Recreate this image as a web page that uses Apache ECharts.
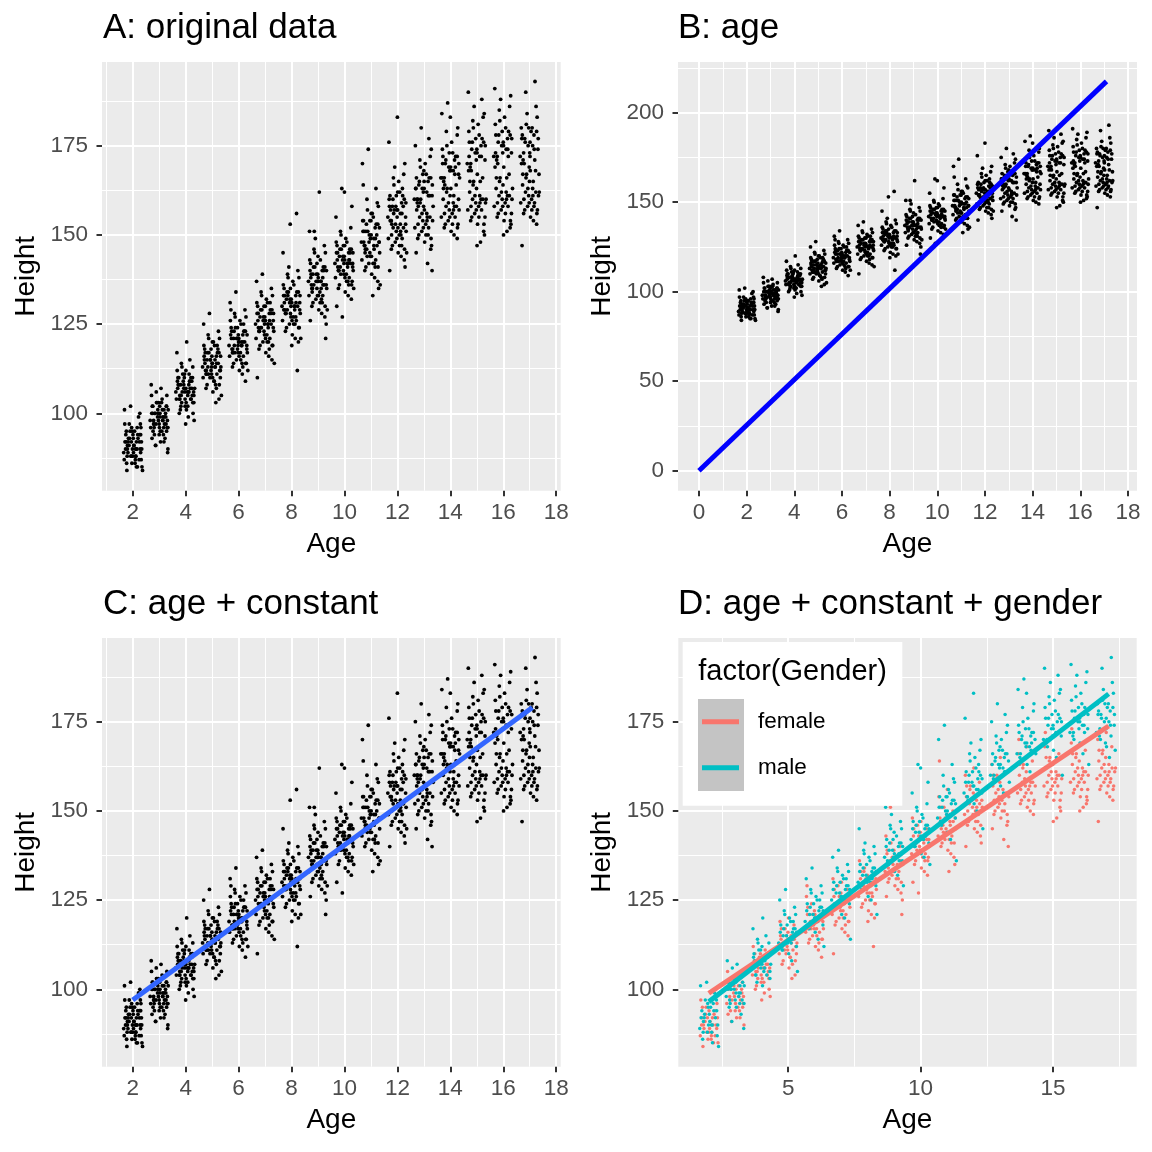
<!DOCTYPE html>
<html>
<head>
<meta charset="utf-8">
<script src="https://cdn.jsdelivr.net/npm/echarts@6/dist/echarts.min.js"></script>
<style>html,body{margin:0;padding:0;background:#fff}#c{width:1152px;height:1152px}</style>
</head>
<body>
<div id="c"></div>
<script>
// ---------- data ----------
const femalePts = [
[1.68,87],[1.75,92],[1.82,89],[1.9,95],[1.97,86],[2.05,91],[2.12,88],[2.2,93],[2.28,90],[2.35,85],[1.7,97],[1.78,84],[1.86,91],[1.93,88],[2.01,94],[2.09,86],[2.16,90],[2.24,87],[2.31,96],[1.73,90],[1.88,93],[2.03,89],[2.18,85],[2.33,92],
[2.68,96],[2.75,100],[2.82,94],[2.9,103],[2.97,98],[3.05,92],[3.12,101],[3.2,97],[3.28,95],[3.33,90],[2.71,105],[2.79,98],[2.86,91],[2.94,99],[3.01,96],[3.09,103],[3.16,94],[3.24,100],[3.31,98],[2.73,93],[2.88,97],[3.03,100],[3.18,92],[3.27,102],
[3.65,104],[3.72,108],[3.8,101],[3.87,106],[3.95,110],[4.02,103],[4.1,99],[4.17,107],[4.25,105],[4.32,98],[3.68,112],[3.76,100],[3.83,105],[3.91,109],[3.98,102],[4.06,106],[4.13,111],[4.21,104],[4.28,100],[3.7,107],[3.85,103],[4.0,97],[4.15,109],[4.3,106],
[4.66,110],[4.73,114],[4.81,108],[4.88,117],[4.96,112],[5.03,106],[5.11,115],[5.18,111],[5.26,104],[5.33,113],[4.69,119],[4.77,107],[4.84,113],[4.92,110],[4.99,116],[5.07,109],[5.14,103],[5.22,118],[5.29,112],[4.71,115],[4.86,111],[5.01,120],[5.16,107],[5.31,110],
[5.66,116],[5.73,121],[5.81,114],[5.88,124],[5.96,118],[6.03,112],[6.11,120],[6.18,116],[6.26,109],[6.33,117],[5.69,126],[5.77,113],[5.84,119],[5.92,115],[5.99,122],[6.07,117],[6.14,111],[6.22,123],[6.29,114],[5.71,129],[5.86,117],[6.01,121],[6.16,113],[6.31,119],
[6.66,121],[6.73,126],[6.81,119],[6.88,129],[6.96,123],[7.03,117],[7.11,125],[7.18,121],[7.26,115],[7.33,123],[6.69,131],[6.77,118],[6.84,124],[6.92,120],[6.99,127],[7.07,122],[7.14,116],[7.22,128],[7.29,119],[6.71,110],[6.86,124],[7.01,130],[7.16,118],[7.31,126],
[7.66,126],[7.73,131],[7.81,124],[7.88,134],[7.96,128],[8.03,122],[8.11,130],[8.18,126],[8.26,120],[8.33,128],[7.69,136],[7.77,123],[7.84,129],[7.92,125],[7.99,132],[8.07,127],[8.14,121],[8.22,112],[8.29,124],[7.71,129],[7.86,133],[8.01,119],[8.16,127],[8.31,131],
[8.66,133],[8.73,138],[8.81,131],[8.88,141],[8.96,135],[9.03,129],[9.11,137],[9.18,133],[9.26,127],[9.33,135],[8.69,143],[8.77,130],[8.84,136],[8.92,132],[8.99,139],[9.07,134],[9.14,128],[9.22,140],[9.29,121],[8.71,126],[8.86,151],[9.01,137],[9.16,131],[9.31,125],
[9.66,138],[9.73,143],[9.81,136],[9.88,146],[9.96,140],[10.03,134],[10.11,142],[10.18,138],[10.26,132],[10.33,140],[9.69,148],[9.77,135],[9.84,141],[9.92,127],[9.99,144],[10.07,139],[10.14,133],[10.22,145],[10.29,137],[9.71,130],[9.86,139],[10.01,147],[10.16,136],[10.31,142],
[10.66,143],[10.73,148],[10.81,141],[10.88,151],[10.96,145],[11.03,139],[11.11,147],[11.18,143],[11.26,137],[11.33,145],[10.69,154],[10.77,140],[10.84,146],[10.92,142],[10.99,149],[11.07,133],[11.14,138],[11.22,150],[11.29,135],[10.71,164],[10.86,144],[11.01,156],[11.16,141],[11.31,148],
[11.66,149],[11.73,154],[11.81,147],[11.88,157],[11.96,151],[12.03,145],[12.11,153],[12.18,149],[12.26,143],[12.33,151],[11.69,160],[11.77,146],[11.84,152],[11.92,148],[11.99,155],[12.07,150],[12.14,144],[12.22,158],[12.29,141],[11.71,140],[11.86,156],[12.01,162],[12.16,147],[12.31,153],
[12.66,152],[12.73,157],[12.81,150],[12.88,160],[12.96,154],[13.03,148],[13.11,156],[13.18,152],[13.26,146],[13.33,154],[12.69,163],[12.77,149],[12.84,155],[12.92,151],[12.99,158],[13.07,153],[13.14,142],[13.22,161],[13.29,147],[12.71,145],[12.86,159],[13.01,165],[13.16,150],[13.31,140],
[13.66,155],[13.73,160],[13.81,153],[13.88,163],[13.96,157],[14.03,151],[14.11,159],[14.18,155],[14.26,149],[14.33,157],[13.69,166],[13.77,152],[13.84,158],[13.92,154],[13.99,161],[14.07,156],[14.14,150],[14.22,164],[14.29,153],[13.71,170],[13.86,162],[14.01,168],[14.16,158],[14.31,160],
[14.66,157],[14.73,162],[14.81,155],[14.88,165],[14.96,159],[15.03,153],[15.11,161],[15.18,157],[15.26,151],[15.33,159],[14.69,168],[14.77,154],[14.84,160],[14.92,156],[14.99,163],[15.07,158],[15.14,148],[15.22,166],[15.29,150],[14.71,172],[14.86,164],[15.01,147],[15.16,160],[15.31,155],
[15.66,158],[15.73,163],[15.81,156],[15.88,166],[15.96,160],[16.03,154],[16.11,162],[16.18,158],[16.26,152],[16.33,160],[15.69,169],[15.77,155],[15.84,161],[15.92,157],[15.99,164],[16.07,159],[16.14,151],[16.22,167],[16.29,153],[15.71,173],[15.86,165],[16.01,150],[16.16,161],[16.31,156],
[16.66,159],[16.73,164],[16.81,157],[16.88,167],[16.96,161],[17.03,155],[17.11,163],[17.18,159],[17.26,153],[17.33,161],[16.69,170],[16.77,156],[16.84,162],[16.92,158],[16.99,165],[17.07,160],[17.14,154],[17.22,168],[17.29,157],[16.71,147],[16.86,166],[17.01,172],[17.16,158],[17.36,162],
[1.8,90],[1.95,92],[2.1,87],[2.26,94],[1.76,95],[2.0,88],[2.14,92],[2.3,89],
[2.8,97],[2.95,101],[3.1,95],[3.25,99],[2.76,102],[3.0,94],[3.14,98],[3.3,96],
[3.78,105],[3.93,108],[4.08,102],[4.23,107],[3.74,110],[3.98,104],[4.12,106],[4.27,103],
[4.78,112],[4.93,115],[5.08,109],[5.23,114],[4.74,117],[4.98,111],[5.12,113],[5.27,108],
[5.78,118],[5.93,121],[6.08,115],[6.23,120],[5.74,123],[5.98,117],[6.12,119],[6.27,114],
[6.78,123],[6.93,126],[7.08,120],[7.23,125],[6.74,128],[6.98,122],[7.12,124],[7.27,119],
[7.78,128],[7.93,131],[8.08,125],[8.23,130],[7.74,133],[7.98,127],[8.12,129],[8.27,124],
[8.78,134],[8.93,137],[9.08,131],[9.23,136],[8.74,139],[8.98,133],[9.12,135],[9.27,130],
[9.78,140],[9.93,143],[10.08,137],[10.23,142],[9.74,145],[9.98,139],[10.12,141],[10.27,136],
[10.78,145],[10.93,148],[11.08,142],[11.23,147],[10.74,151],[10.98,144],[11.12,146],[11.27,141],
[11.78,150],[11.93,153],[12.08,147],[12.23,152],[11.74,157],[11.98,149],[12.12,151],[12.27,146],
[12.78,153],[12.93,156],[13.08,150],[13.23,155],[12.74,160],[12.98,152],[13.12,154],[13.27,149],
[13.78,156],[13.93,159],[14.08,153],[14.23,158],[13.74,163],[13.98,155],[14.12,157],[14.27,152],
[14.78,158],[14.93,161],[15.08,155],[15.23,160],[14.74,165],[14.98,157],[15.12,159],[15.27,153],
[15.78,159],[15.93,162],[16.08,156],[16.23,161],[15.74,166],[15.98,158],[16.12,160],[16.27,154],
[16.78,160],[16.93,163],[17.08,157],[17.23,162],[16.74,167],[16.98,159],[17.12,161],[17.27,156]
];
const malePts = [
[1.66,89],[1.74,94],[1.8,91],[1.87,97],[1.95,88],[2.02,93],[2.1,90],[2.17,96],[2.25,92],[2.32,87],[1.69,101],[1.77,86],[1.84,93],[1.92,102],[1.99,90],[2.07,95],[2.14,85],[2.22,99],[2.3,94],[2.37,84],[1.71,92],[1.96,96],[2.11,88],[2.27,100],
[2.66,98],[2.74,102],[2.81,96],[2.89,106],[2.96,100],[3.04,95],[3.11,104],[3.19,99],[3.26,97],[3.34,101],[2.7,108],[2.77,95],[2.85,100],[2.92,103],[3.0,97],[3.07,107],[3.14,99],[3.22,93],[3.29,105],[2.72,100],[2.87,91],[3.02,102],[3.17,96],[3.32,89],
[3.63,106],[3.71,110],[3.78,104],[3.86,113],[3.93,107],[4.01,112],[4.08,105],[4.16,115],[4.23,109],[4.31,103],[3.67,117],[3.74,108],[3.82,102],[3.89,111],[3.97,106],[4.04,120],[4.12,108],[4.19,104],[4.27,113],[4.34,107],[3.69,109],[3.84,114],[4.03,101],[4.2,110],
[4.64,113],[4.72,118],[4.79,111],[4.87,121],[4.94,115],[5.02,110],[5.09,119],[5.17,114],[5.24,123],[5.32,116],[4.68,125],[4.75,112],[4.83,117],[4.9,128],[4.98,113],[5.05,120],[5.13,108],[5.2,117],[5.28,121],[5.35,105],[4.7,116],[4.85,122],[5.0,114],[5.19,119],
[5.64,119],[5.72,124],[5.79,117],[5.87,127],[5.94,121],[6.02,116],[6.09,125],[6.17,120],[6.24,129],[6.32,122],[5.68,131],[5.75,118],[5.83,123],[5.9,134],[5.98,119],[6.05,126],[6.13,114],[6.2,123],[6.28,127],[6.35,112],[5.7,122],[5.85,128],[6.0,120],[6.19,125],
[6.64,125],[6.72,130],[6.79,123],[6.87,133],[6.94,127],[7.02,121],[7.09,131],[7.17,126],[7.24,135],[7.32,128],[6.68,137],[6.75,124],[6.83,129],[6.9,139],[6.98,125],[7.05,132],[7.13,120],[7.2,129],[7.28,133],[7.35,114],[6.7,128],[6.85,134],[7.0,126],[7.19,131],
[7.64,130],[7.72,135],[7.79,128],[7.87,138],[7.94,132],[8.02,126],[8.09,136],[8.17,131],[8.24,140],[8.32,133],[7.68,145],[7.75,129],[7.83,134],[7.9,141],[7.98,130],[8.05,137],[8.13,125],[8.2,134],[8.28,138],[8.35,121],[7.7,133],[7.85,139],[7.95,153],[8.19,156],
[8.64,137],[8.72,142],[8.79,135],[8.87,145],[8.94,139],[9.02,133],[9.09,143],[9.18,138],[9.24,147],[9.32,140],[8.68,151],[8.75,136],[8.83,141],[8.9,149],[8.98,137],[9.05,162],[9.13,132],[9.2,141],[9.28,145],[9.35,129],[8.7,140],[8.85,146],[9.0,144],[9.19,136],
[9.64,142],[9.72,147],[9.79,140],[9.87,150],[9.94,144],[10.02,138],[10.09,148],[10.17,143],[10.24,152],[10.32,145],[9.68,155],[9.75,141],[9.83,146],[9.9,163],[9.98,142],[10.05,149],[10.13,137],[10.2,146],[10.28,158],[10.35,135],[9.7,145],[9.85,151],[10.0,162],[10.19,143],
[10.64,148],[10.72,154],[10.79,146],[10.87,157],[10.94,150],[11.02,144],[11.09,155],[11.17,149],[11.24,159],[11.32,152],[10.68,170],[10.75,147],[10.83,153],[10.9,174],[10.98,149],[11.05,156],[11.13,142],[11.2,153],[11.28,158],[11.35,136],[10.7,151],[10.85,160],[11.0,154],[11.19,163],
[11.64,155],[11.72,161],[11.79,153],[11.87,164],[11.94,158],[12.02,152],[12.09,162],[12.17,156],[12.24,167],[12.32,159],[11.68,176],[11.75,154],[11.83,160],[11.9,169],[11.98,157],[12.05,165],[12.13,150],[12.2,161],[12.28,170],[12.35,145],[11.7,158],[11.85,166],[12.0,183],[12.19,163],
[12.64,160],[12.72,166],[12.79,158],[12.87,169],[12.94,163],[13.02,157],[13.09,167],[13.17,161],[13.24,172],[13.32,164],[12.68,175],[12.75,159],[12.83,165],[12.9,180],[12.98,162],[13.05,170],[13.13,155],[13.2,166],[13.28,174],[13.35,158],[12.7,163],[12.85,171],[13.0,168],[13.19,177],
[13.64,166],[13.72,172],[13.79,164],[13.87,175],[13.94,169],[14.02,163],[14.09,173],[14.17,167],[14.26,178],[14.32,170],[13.68,184],[13.75,165],[13.83,171],[13.9,187],[13.98,168],[14.05,176],[14.13,161],[14.2,172],[14.28,180],[14.35,166],[13.7,174],[13.85,179],[14.0,183],[14.19,169],
[14.64,170],[14.72,176],[14.79,168],[14.87,180],[14.94,173],[15.02,167],[15.09,178],[15.17,172],[15.24,183],[15.32,175],[14.68,190],[14.75,169],[14.83,176],[14.9,186],[14.98,171],[15.05,181],[15.13,165],[15.2,177],[15.28,184],[15.35,160],[14.7,179],[14.85,182],[15.0,174],[15.19,188],
[15.64,172],[15.72,178],[15.79,170],[15.87,182],[15.94,175],[16.02,169],[16.09,180],[16.17,174],[16.24,186],[16.32,177],[15.68,191],[15.75,171],[15.83,178],[15.9,188],[15.98,173],[16.05,183],[16.13,166],[16.2,179],[16.28,189],[16.35,163],[15.7,181],[15.85,185],[16.0,176],[16.19,172],
[16.64,172],[16.72,178],[16.79,170],[16.87,181],[16.94,175],[17.02,168],[17.09,180],[17.17,174],[17.24,186],[17.32,177],[16.68,180],[16.75,171],[16.83,176],[16.9,184],[16.98,169],[17.05,179],[17.13,165],[17.2,193],[17.28,183],[17.35,167],[16.7,177],[16.85,190],[17.0,173],[17.19,171],
[1.83,92],[1.98,95],[2.13,90],[2.29,97],[1.79,88],[2.04,91],[2.19,94],[2.34,90],
[2.83,100],[2.98,103],[3.13,98],[3.28,102],[2.79,97],[3.03,99],[3.18,101],[3.33,96],
[3.81,108],[3.96,111],[4.11,106],[4.26,110],[3.77,104],[4.01,107],[4.16,109],[4.31,105],
[4.81,115],[4.96,118],[5.11,113],[5.26,117],[4.77,111],[5.01,114],[5.16,116],[5.31,112],
[5.81,121],[5.96,124],[6.11,119],[6.26,123],[5.77,117],[6.01,120],[6.16,122],[6.31,118],
[6.81,127],[6.96,130],[7.11,125],[7.26,129],[6.77,123],[7.01,126],[7.16,128],[7.31,124],
[7.81,132],[7.96,135],[8.11,130],[8.26,134],[7.77,128],[8.01,131],[8.16,133],[8.31,129],
[8.81,139],[8.96,142],[9.11,137],[9.26,141],[8.77,135],[9.01,138],[9.16,140],[9.31,136],
[9.81,144],[9.96,147],[10.11,142],[10.26,146],[9.77,140],[10.01,143],[10.16,145],[10.31,141],
[10.81,151],[10.96,154],[11.11,149],[11.26,153],[10.77,147],[11.01,150],[11.16,152],[11.31,148],
[11.81,158],[11.96,161],[12.11,156],[12.26,160],[11.77,154],[12.01,157],[12.16,159],[12.31,155],
[12.81,164],[12.96,167],[13.11,162],[13.26,166],[12.77,160],[13.01,163],[13.16,165],[13.31,161],
[13.81,170],[13.96,173],[14.11,168],[14.26,172],[13.77,166],[14.01,169],[14.16,171],[14.31,167],
[14.81,174],[14.96,177],[15.11,172],[15.26,176],[14.77,170],[15.01,173],[15.16,175],[15.31,171],
[15.81,176],[15.96,179],[16.11,174],[16.26,178],[15.77,172],[16.01,175],[16.16,177],[16.31,173],
[16.81,177],[16.96,180],[17.11,175],[17.26,179],[16.77,173],[17.01,176],[17.16,178],[17.31,174]
];
// fitted lines (end points)
const lineAge = [[0, 0], [17.1, 217.5]];
const lineAgeConst = [[2, 97], [17.1, 179]];
const lineFemale = [[2, 98.9], [17.1, 173.8]];
const lineMale = [[2, 96.5], [17.1, 182.8]];
// tick labels
const xTicksA = [2, 4, 6, 8, 10, 12, 14, 16, 18];
const yTicksA = [100, 125, 150, 175];
const xTicksB = [0, 2, 4, 6, 8, 10, 12, 14, 16, 18];
const yTicksB = [0, 50, 100, 150, 200];
const xTicksD = [5, 10, 15];
const titles = ['A: original data', 'B: age', 'C: age + constant', 'D: age + constant + gender'];
const genders = ['female', 'male'];
const allPts = femalePts.concat(malePts);

// ---------- chart ----------
const FONT = '"Liberation Sans", Arial, Helvetica, sans-serif';
const chart = echarts.init(document.getElementById('c'), null, {renderer: 'canvas'});

function axis(type, grid, min, max, step, ticks, name) {
  const isX = type === 'x';
  return {
    type: 'value', gridIndex: grid, min: min, max: max,
    minInterval: step, maxInterval: step,
    name: name, nameLocation: 'middle', nameGap: isX ? 40 : 62,
    nameTextStyle: {fontFamily: FONT, fontSize: 28, color: '#000'},
    axisLine: {show: false, onZero: false},
    axisTick: {show: true, length: 5.5, customValues: ticks, lineStyle: {color: '#333333', width: 2}},
    axisLabel: {customValues: ticks, margin: isX ? 11 : 14, fontFamily: FONT, fontSize: 22.5, color: '#4D4D4D'},
    splitLine: {show: true, lineStyle: {color: '#FFFFFF', width: 2}},
    minorTick: {show: false, splitNumber: 2},
    minorSplitLine: {show: true, lineStyle: {color: '#FFFFFF', width: 1}}
  };
}

const gridStyle = {show: true, backgroundColor: '#EBEBEB', borderWidth: 0, containLabel: false};
const titleStyle = {fontFamily: FONT, fontSize: 35, fontWeight: 'normal', color: '#000'};
const dot = (color) => ({color: color, opacity: 1});

const option = {
  animation: false,
  backgroundColor: '#FFFFFF',
  title: [
    {text: titles[0], left: 103, top: 11, padding: 0, textStyle: titleStyle},
    {text: titles[1], left: 678, top: 11, padding: 0, textStyle: titleStyle},
    {text: titles[2], left: 103, top: 587, padding: 0, textStyle: titleStyle},
    {text: titles[3], left: 678, top: 587, padding: 0, textStyle: titleStyle},
    {text: 'factor(Gender)', left: 698.3, top: 657.2, padding: 0, z: 10,
     textStyle: {fontFamily: FONT, fontSize: 29, fontWeight: 'normal', color: '#000'}}
  ],
  grid: [
    Object.assign({left: 102, top: 62, width: 458.7, height: 428.7}, gridStyle),
    Object.assign({left: 678, top: 62, width: 459, height: 428.7}, gridStyle),
    Object.assign({left: 102, top: 638, width: 458.7, height: 428.7}, gridStyle),
    Object.assign({left: 678.3, top: 638, width: 458.4, height: 428.7}, gridStyle)
  ],
  xAxis: [
    axis('x', 0, 0.84, 18.17, 2, xTicksA, 'Age'),
    axis('x', 1, -0.88, 18.38, 2, xTicksB, 'Age'),
    axis('x', 2, 0.84, 18.17, 2, xTicksA, 'Age'),
    axis('x', 3, 0.85, 18.16, 5, xTicksD, 'Age')
  ],
  yAxis: [
    axis('y', 0, 78.31, 198.46, 25, yTicksA, 'Height'),
    axis('y', 1, -11.17, 228.3, 50, yTicksB, 'Height'),
    axis('y', 2, 78.31, 198.46, 25, yTicksA, 'Height'),
    axis('y', 3, 78.31, 198.46, 25, yTicksA, 'Height')
  ],
  legend: {
    data: genders, orient: 'vertical', left: 702, top: 709.7, padding: 0,
    itemWidth: 37, itemHeight: 5, itemGap: 22, icon: 'rect', selectedMode: false, z: 10,
    textStyle: {fontFamily: FONT, fontSize: 22.5, color: '#000', lineHeight: 24, padding: [0, 0, 0, 14]}
  },
  graphic: {
    elements: [
      {type: 'rect', z: 6, silent: true, shape: {x: 682.7, y: 642, width: 219.6, height: 163.7}, style: {fill: '#FFFFFF'}},
      {type: 'rect', z: 7, silent: true, shape: {x: 698, y: 699, width: 46, height: 92}, style: {fill: '#C4C4C4'}}
    ]
  },
  series: [
    {type: 'scatter', xAxisIndex: 0, yAxisIndex: 0, data: allPts, symbolSize: 3.8, itemStyle: dot('#000'), silent: true},
    {type: 'scatter', xAxisIndex: 1, yAxisIndex: 1, data: allPts, symbolSize: 3.8, itemStyle: dot('#000'), silent: true},
    {type: 'line', xAxisIndex: 1, yAxisIndex: 1, data: lineAge, symbol: 'none', lineStyle: {color: '#0000FF', width: 5}, silent: true},
    {type: 'scatter', xAxisIndex: 2, yAxisIndex: 2, data: allPts, symbolSize: 3.8, itemStyle: dot('#000'), silent: true},
    {type: 'line', xAxisIndex: 2, yAxisIndex: 2, data: lineAgeConst, symbol: 'none', lineStyle: {color: '#3366FF', width: 5}, silent: true},
    {type: 'scatter', name: 'female pts', xAxisIndex: 3, yAxisIndex: 3, data: femalePts, symbolSize: 3.5, itemStyle: dot('#F8766D'), silent: true},
    {type: 'scatter', name: 'male pts', xAxisIndex: 3, yAxisIndex: 3, data: malePts, symbolSize: 3.5, itemStyle: dot('#00BFC4'), silent: true},
    {type: 'line', name: genders[0], xAxisIndex: 3, yAxisIndex: 3, data: lineFemale, symbol: 'none', color: '#F8766D', lineStyle: {color: '#F8766D', width: 5}, silent: true},
    {type: 'line', name: genders[1], xAxisIndex: 3, yAxisIndex: 3, data: lineMale, symbol: 'none', color: '#00BFC4', lineStyle: {color: '#00BFC4', width: 5}, silent: true}
  ]
};
chart.setOption(option);
</script>
</body>
</html>
